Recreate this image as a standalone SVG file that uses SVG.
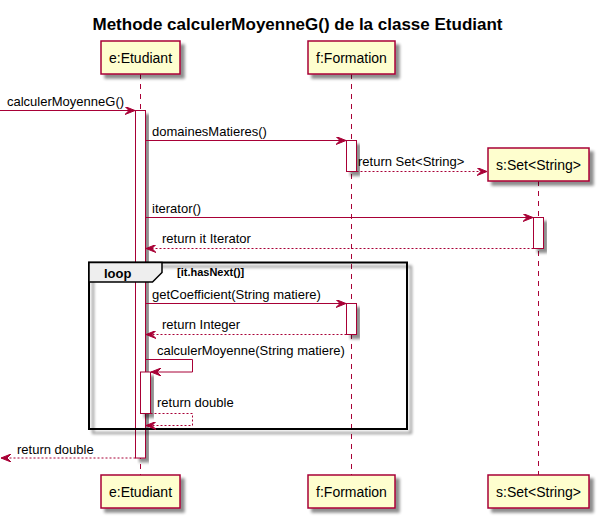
<svg xmlns="http://www.w3.org/2000/svg" width="599" height="519" viewBox="0 0 599 519">
<defs>
<filter id="sh" x="-20%" y="-20%" width="150%" height="150%">
<feGaussianBlur in="SourceAlpha" stdDeviation="1.8" result="b"/>
<feOffset in="b" dx="4" dy="4" result="o"/>
<feComponentTransfer in="o" result="c"><feFuncA type="linear" slope="0.45"/></feComponentTransfer>
<feMerge><feMergeNode in="c"/><feMergeNode in="SourceGraphic"/></feMerge>
</filter>
<marker id="ah" viewBox="0 0 10 8" refX="10" refY="4" markerWidth="10" markerHeight="8" markerUnits="userSpaceOnUse" orient="auto">
<path d="M0,0 L10,4 L0,8 L4,4 Z" fill="#A80036" stroke="#A80036" stroke-width="1"/>
</marker>
</defs>
<style>
text{font-family:"Liberation Sans",Arial,sans-serif;fill:#000}
.title{font-size:17px;font-weight:bold}
.pbox{fill:#FEFECE;stroke:#A80036;stroke-width:1.5}
.pname{font-size:14px}
.life{stroke:#A80036;stroke-width:1;stroke-dasharray:5,5;fill:none}
.act{fill:#FFFFFF;stroke:#A80036;stroke-width:1}
.msg{stroke:#A80036;stroke-width:1;fill:none;marker-end:url(#ah)}
.ret{stroke-dasharray:2,2}
.lbl{font-size:13px}
.frame{fill:none;stroke:#000;stroke-width:2}
.tab{fill:#EEEEEE;stroke:#000;stroke-width:1.5}
</style>
<rect width="599" height="519" fill="#FFFFFF"/>
<text class="title" x="297.5" y="30" text-anchor="middle">Methode calculerMoyenneG() de la classe Etudiant</text>

<g id="e">
<line class="life" x1="140.5" y1="74" x2="140.5" y2="475"/>
<rect class="pbox" x="101" y="41" width="79" height="33" filter="url(#sh)"/>
<text class="pname" x="140.5" y="62.5" text-anchor="middle">e:Etudiant</text>
<rect class="pbox" x="101" y="475" width="79" height="33" filter="url(#sh)"/>
<text class="pname" x="140.5" y="496.5" text-anchor="middle">e:Etudiant</text>
<rect class="act" x="135.5" y="110.5" width="10" height="347.5" filter="url(#sh)"/>
</g>

<g id="f">
<line class="life" x1="351.5" y1="74" x2="351.5" y2="475"/>
<rect class="pbox" x="308" y="41" width="87" height="33" filter="url(#sh)"/>
<text class="pname" x="351.5" y="62.5" text-anchor="middle">f:Formation</text>
<rect class="pbox" x="308" y="475" width="87" height="33" filter="url(#sh)"/>
<text class="pname" x="351.5" y="496.5" text-anchor="middle">f:Formation</text>
<rect class="act" x="346.5" y="140.5" width="10" height="31" filter="url(#sh)"/>
<rect class="act" x="346.5" y="303.5" width="10" height="31" filter="url(#sh)"/>
</g>

<g id="s">
<line class="life" x1="538.5" y1="181" x2="538.5" y2="475"/>
<rect class="pbox" x="488" y="148" width="101" height="33" filter="url(#sh)"/>
<text class="pname" x="538.5" y="169.5" text-anchor="middle">s:Set&lt;String&gt;</text>
<rect class="pbox" x="488" y="475" width="101" height="33" filter="url(#sh)"/>
<text class="pname" x="538.5" y="496.5" text-anchor="middle">s:Set&lt;String&gt;</text>
<rect class="act" x="533.5" y="217.5" width="10" height="31" filter="url(#sh)"/>
</g>

<g id="loop">
<rect class="frame" x="89" y="262.5" width="318" height="166.5" filter="url(#sh)"/>
<polygon class="tab" points="89,262.5 162,262.5 162,272.5 152.5,282 89,282"/>
<text x="104" y="278" style="font-size:13px;font-weight:bold">loop</text>
<text x="177" y="275.5" style="font-size:11px;font-weight:bold">[it.hasNext()]</text>
</g>

<g id="e-inner">
<rect class="act" x="140.5" y="372" width="10" height="41.5" filter="url(#sh)"/>
</g>

<g id="connectors">
<line class="msg" x1="0" y1="110.5" x2="135" y2="110.5"/>
<text class="lbl" x="7" y="106">calculerMoyenneG()</text>
<line class="msg" x1="145.5" y1="140.5" x2="346" y2="140.5"/>
<text class="lbl" x="152" y="136">domainesMatieres()</text>
<line class="msg ret" x1="356.5" y1="171.5" x2="487" y2="171.5"/>
<text class="lbl" x="358" y="166">return Set&lt;String&gt;</text>
<line class="msg" x1="145.5" y1="217.5" x2="533" y2="217.5"/>
<text class="lbl" x="152" y="213">iterator()</text>
<line class="msg ret" x1="533.5" y1="248.5" x2="146" y2="248.5"/>
<text class="lbl" x="162" y="243">return it Iterator</text>
<line class="msg" x1="145.5" y1="303.5" x2="346" y2="303.5"/>
<text class="lbl" x="152" y="299">getCoefficient(String matiere)</text>
<line class="msg ret" x1="346.5" y1="334.5" x2="146" y2="334.5"/>
<text class="lbl" x="162" y="329">return Integer</text>
<polyline class="msg" points="145.5,359.5 192.5,359.5 192.5,372 151,372"/>
<text class="lbl" x="157" y="355">calculerMoyenne(String matiere)</text>
<polyline class="msg ret" points="150.5,413.5 192.5,413.5 192.5,425.5 146,425.5"/>
<text class="lbl" x="157" y="407">return double</text>
<line class="msg ret" x1="135.5" y1="458" x2="1" y2="458"/>
<text class="lbl" x="17" y="454">return double</text>
</g>
</svg>
